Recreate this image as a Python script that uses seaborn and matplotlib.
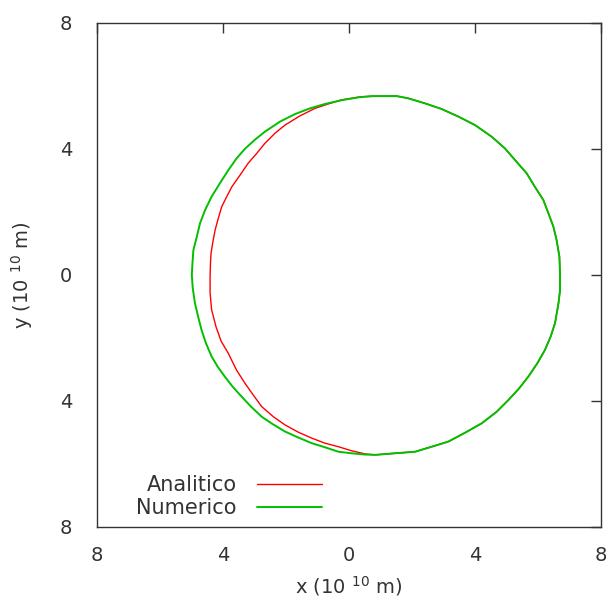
import numpy as np
import pandas as pd
import matplotlib
matplotlib.use("Agg")
import matplotlib.pyplot as plt
import seaborn as sns

# ---- data (units of 1e10 m) ----
numerico_x = [6.70, 6.68, 6.59, 6.49, 6.33, 6.17, 5.90, 5.64, 5.27, 4.95, 4.53, 4.00, 3.47,
              2.94, 2.41, 1.88, 1.51, 0.72, 0.30, -0.23, -0.76, -1.24, -1.71, -2.19, -2.67,
              -2.98, -3.30, -3.57, -3.83, -4.10, -4.36, -4.57, -4.73, -4.83, -4.94, -4.97,
              -4.99, -4.96, -4.89, -4.79, -4.68, -4.54, -4.36, -4.17, -3.94, -3.69, -3.41,
              -3.11, -2.77, -2.43, -2.03, -1.61, -1.18, -0.76, -0.34, 0.08, 0.51, 0.83,
              1.46, 2.10, 2.63, 3.15, 3.68, 4.21, 4.69, 5.06, 5.40, 5.69, 5.98, 6.22,
              6.40, 6.54, 6.65, 6.70, 6.70]
numerico_y = [0.00, 0.58, 1.11, 1.53, 1.96, 2.38, 2.80, 3.23, 3.65, 4.02, 4.39, 4.76, 5.03,
              5.27, 5.45, 5.61, 5.68, 5.68, 5.64, 5.55, 5.43, 5.29, 5.11, 4.87, 4.55,
              4.30, 4.01, 3.70, 3.33, 2.91, 2.49, 2.06, 1.64, 1.22, 0.79, 0.37,
              0.00, -0.42, -0.90, -1.32, -1.75, -2.17, -2.59, -2.91, -3.23, -3.55, -3.86,
              -4.18, -4.50, -4.73, -4.97, -5.16, -5.34, -5.47, -5.61, -5.66, -5.70, -5.71,
              -5.66, -5.61, -5.45, -5.29, -5.01, -4.71, -4.34, -3.97, -3.60, -3.23, -2.80, -2.38,
              -1.96, -1.53, -0.90, -0.48, 0.00]

analitico_x = [6.70, 6.68, 6.59, 6.49, 6.33, 6.17, 5.90, 5.64, 5.27, 4.95, 4.53, 4.00, 3.47,
               2.94, 2.41, 1.88, 1.51, 0.72, 0.40, 0.08, -0.23, -0.66, -1.08, -1.56, -2.03,
               -2.35, -2.67, -2.93, -3.20, -3.46, -3.72, -3.88, -4.04, -4.15, -4.25, -4.32,
               -4.38, -4.40, -4.41, -4.41, -4.36, -4.22, -4.06, -3.83, -3.57, -3.30, -3.04,
               -2.77, -2.40, -2.03, -1.61, -1.18, -0.76, -0.34, 0.08, 0.51, 0.83,
               1.46, 2.10, 2.63, 3.15, 3.68, 4.21, 4.69, 5.06, 5.40, 5.69, 5.98, 6.22,
               6.40, 6.54, 6.65, 6.70, 6.70]
analitico_y = [0.00, 0.58, 1.11, 1.53, 1.96, 2.38, 2.80, 3.23, 3.65, 4.02, 4.39, 4.76, 5.03,
               5.27, 5.45, 5.61, 5.68, 5.67, 5.66, 5.61, 5.56, 5.43, 5.29, 5.05, 4.76,
               4.50, 4.18, 3.86, 3.55, 3.17, 2.80, 2.49, 2.17, 1.80, 1.43, 1.06,
               0.69, 0.32, -0.05, -0.58, -1.11, -1.65, -2.10, -2.49, -3.02, -3.44, -3.81,
               -4.18, -4.50, -4.76, -4.99, -5.18, -5.34, -5.45, -5.58, -5.68, -5.71,
               -5.66, -5.61, -5.45, -5.29, -5.01, -4.71, -4.34, -3.97, -3.60, -3.23, -2.80, -2.38,
               -1.96, -1.53, -0.90, -0.48, 0.00]

series_names = ["Analitico", "Numerico"]
tick_values = [-8, -4, 0, 4, 8]
tick_labels = ["8", "4", "0", "4", "8"]

colors = {"Analitico": "#ff0000", "Numerico": "#00c000"}
text_color = "#333333"

df = pd.concat([
    pd.DataFrame({"x": analitico_x, "y": analitico_y, "curve": "Analitico",
                  "order": range(len(analitico_x))}),
    pd.DataFrame({"x": numerico_x, "y": numerico_y, "curve": "Numerico",
                  "order": range(len(numerico_x))}),
], ignore_index=True)

sns.set_style("white")
plt.rcParams["font.family"] = ["DejaVu Sans"]

fig = plt.figure(figsize=(6.09, 6.00), dpi=100)
ax = fig.add_axes([97 / 609, 1 - 527 / 600, 504 / 609, 504 / 600])

widths = {"Analitico": 1.0, "Numerico": 1.4}
for name in series_names:
    sub = df[df["curve"] == name]
    sns.lineplot(data=sub, x="x", y="y", sort=False, estimator=None,
                 color=colors[name], linewidth=widths[name], label=name, ax=ax)

ax.set_xlim(-8, 8)
ax.set_ylim(-8, 8)
ax.set_xticks(tick_values)
ax.set_xticklabels(tick_labels)
ax.set_yticks(tick_values)
ax.set_yticklabels(tick_labels)
ax.tick_params(axis="both", direction="in", length=7, width=1, color=text_color,
               labelsize=14, labelcolor=text_color, top=True, right=True)
ax.tick_params(axis="x", pad=14)
ax.tick_params(axis="y", pad=18)
for s in ax.spines.values():
    s.set_visible(True)
    s.set_color(text_color)
    s.set_linewidth(1.0)

ax.set_xlabel(r"x (10 $^{10}$ m)", fontsize=14, color=text_color, labelpad=6)
ax.set_ylabel(r"y (10 $^{10}$ m)", fontsize=14, color=text_color, labelpad=18)

leg = ax.legend(loc="lower right", bbox_to_anchor=(0.446, 0.017), frameon=False,
                markerfirst=False, fontsize=15, handlelength=3.12, handletextpad=0.96,
                borderpad=0, borderaxespad=0, labelspacing=0.16)
for t in leg.get_texts():
    t.set_color(text_color)
try:
    leg._legend_handle_box.get_children()[0].align = "right"
except Exception:
    pass

fig.savefig("out.png", dpi=100)
